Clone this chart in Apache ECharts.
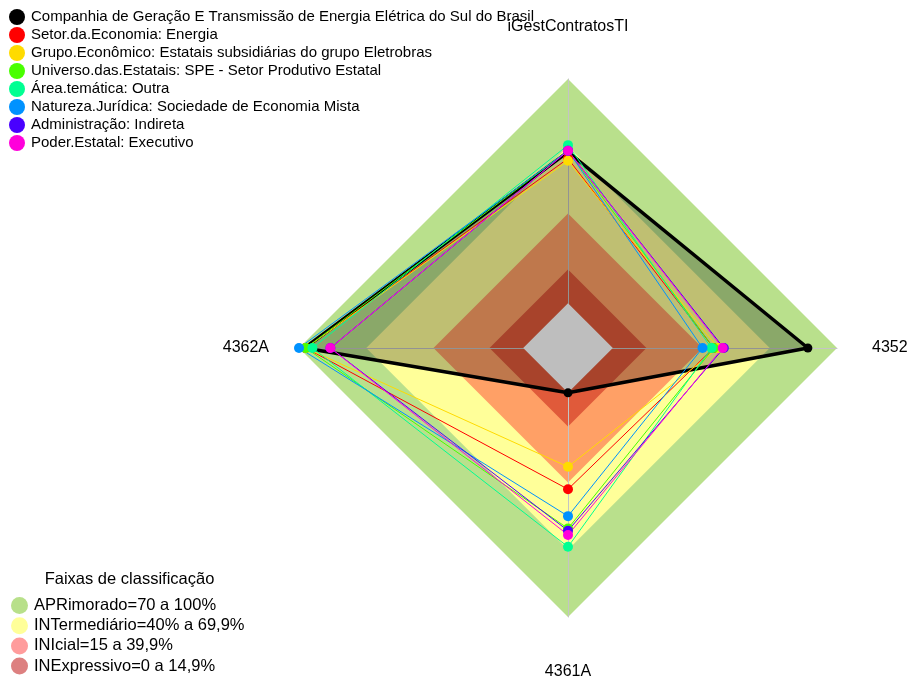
<!DOCTYPE html>
<html>
<head>
<meta charset="utf-8">
<script src="https://cdn.jsdelivr.net/npm/echarts@6/dist/echarts.min.js"></script>
<style>html,body{margin:0;padding:0;background:#fff}#c{width:910px;height:680px}</style>
</head>
<body>
<div id="c"></div>
<script>
// Indicators (ECharts places them counter-clockwise from the top)
const indicators = ['iGestContratosTI', '4362A', '4361A', '4352'];
const axisMin = -20;
const axisMax = 100;

// Series (values in indicator order: top, left, bottom, right)
const seriesNames = [
  'Companhia de Geração E Transmissão de Energia Elétrica do Sul do Brasil',
  'Setor.da.Economia: Energia',
  'Grupo.Econômico: Estatais subsidiárias do grupo Eletrobras',
  'Universo.das.Estatais: SPE - Setor Produtivo Estatal',
  'Área.temática: Outra',
  'Natureza.Jurídica: Sociedade de Economia Mista',
  'Administração: Indireta',
  'Poder.Estatal: Executivo'
];
const companhia   = [67.5, 97.5, 0, 87];
const setor       = [64.5, 97, 43, 45];
const grupo       = [63.5, 97, 33, 47];
const universo    = [68, 97, 60.5, 45];
const area        = [70.5, 94, 68.7, 44];
const natureza    = [68, 100, 55, 40];
const administracao = [68, 86, 61.5, 49.5];
const poder       = [68, 86, 63.4, 49];
const seriesValues = [companhia, setor, grupo, universo, area, natureza, administracao, poder];

// Classification bands (upper limit of each band)
const bandNames = ['APRimorado=70 a 100%', 'INTermediário=40% a 69,9%', 'INIcial=15 a 39,9%', 'INExpressivo=0 a 14,9%'];
const bandLimits = [100, 70, 40, 15];
const centerLimit = 0;

// Styles
const seriesColors = ['#000000', '#FF0000', '#FFDB00', '#49FF00', '#00FF92', '#0092FF', '#4900FF', '#FF00DB'];
const bandFill = ['#b9e08c', '#ffff99', '#ffa066', '#e05a3a'];
const bandLegendColor = ['#b8e08a', '#ffff99', '#ff9c9c', '#dd8080'];
const centerFill = '#bebebe';

const FONT = 'Liberation Sans, Arial, sans-serif';
const fill = v => indicators.map(() => v);

const series = [];
bandNames.forEach((n, i) => {
  series.push({
    type: 'radar', name: n, z: 1, silent: true, symbol: 'none',
    lineStyle: { width: 0, opacity: 0 },
    areaStyle: { color: bandFill[i], opacity: 1 },
    data: [{ name: n, value: fill(bandLimits[i]) }]
  });
});
// black series area (drawn under the grey center)
series.push({
  type: 'radar', name: '_area', z: 3, silent: true, symbol: 'none',
  lineStyle: { width: 0, opacity: 0 },
  areaStyle: { color: 'rgba(0,0,0,0.25)', opacity: 1 },
  data: [{ name: '_area', value: companhia }]
});
series.push({
  type: 'radar', name: '_center', z: 3, silent: true, symbol: 'none',
  lineStyle: { width: 0, opacity: 0 },
  areaStyle: { color: centerFill, opacity: 1 },
  data: [{ name: '_center', value: fill(centerLimit) }]
});
seriesNames.forEach((n, i) => {
  const black = i === 0;
  series.push({
    type: 'radar', name: n, z: 3,
    symbol: 'circle', symbolSize: black ? 9 : 10,
    lineStyle: { width: black ? 3.5 : 1, color: seriesColors[i] },
    itemStyle: { color: seriesColors[i] },
    data: [{ name: n, value: seriesValues[i] }]
  });
});

const chart = echarts.init(document.getElementById('c'), null, { renderer: 'canvas' });
chart.setOption({
  animation: false,
  backgroundColor: '#ffffff',
  title: {
    text: 'Faixas de classificação', left: 124.5, top: 566, textAlign: 'center',
    textStyle: { fontFamily: FONT, fontSize: 16.5, fontWeight: 'normal', color: '#000' }
  },
  legend: [
    {
      data: seriesNames.map(n => ({ name: n })),
      orient: 'vertical', left: 4, top: 4, itemWidth: 16, itemHeight: 16, itemGap: 2,
      height: 200,
      icon: 'circle', selectedMode: false,
      textStyle: { fontFamily: FONT, fontSize: 15, color: '#000', padding: [0, 0, 0, 1] }
    },
    {
      data: bandNames.map((n, i) => ({ name: n, itemStyle: { color: bandLegendColor[i] } })),
      orient: 'vertical', left: 6, top: 592, itemWidth: 17, itemHeight: 17, itemGap: 3.2,
      height: 120,
      icon: 'circle', selectedMode: false,
      textStyle: { fontFamily: FONT, fontSize: 16.5, color: '#000', padding: [0, 0, 0, 1] }
    }
  ],
  radar: {
    z: 2,
    center: [568, 348],
    radius: 269,
    startAngle: 90,
    shape: 'polygon',
    splitNumber: 1,
    indicator: indicators.map(n => ({ name: n, min: axisMin, max: axisMax })),
    nameGap: 30,
    axisName: {
      color: '#000', fontFamily: FONT, fontSize: 16,
      formatter: (name) => name === 'iGestContratosTI' ? '{t|' + name + '}'
        : name === '4361A' ? '{b|' + name + '}'
        : name === '4352' ? '{r|' + name + '}' : name,
      rich: {
        t: { fontFamily: FONT, fontSize: 16, color: '#000', padding: [0, 0, 14, 0] },
        b: { fontFamily: FONT, fontSize: 16, color: '#000', padding: [17, 0, 0, 0] },
        r: { fontFamily: FONT, fontSize: 16, color: '#000', padding: [0, 0, 0, 5] }
      }
    },
    axisLine: { show: true, lineStyle: { color: '#c4c4c4', width: 1 } },
    splitLine: { show: false },
    splitArea: { show: false },
    axisTick: { show: false },
    axisLabel: { show: false }
  },
  series: series
});
</script>
</body>
</html>
